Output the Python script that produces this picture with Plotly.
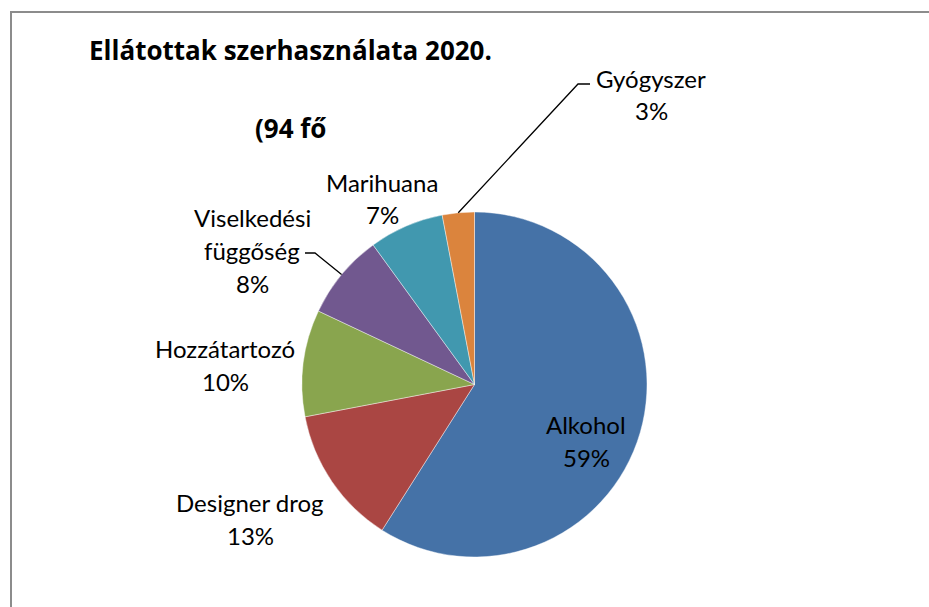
import math
import plotly.graph_objects as go

# ---- data ----
labels = ["Alkohol", "Designer drog", "Hozzátartozó", "Viselkedési függőség", "Marihuana", "Gyógyszer"]
values = [59, 13, 10, 8, 7, 3]
colors = ["#4572A7", "#AA4643", "#89A54E", "#71588F", "#4198AF", "#DB843D"]
label_lines = [["Alkohol"], ["Designer drog"], ["Hozzátartozó"], ["Viselkedési", "függőség"], ["Marihuana"], ["Gyógyszer"]]
title_text = "Ellátottak szerhasználata 2020."
subtitle_text = "(94 fő"

# ---- layout geometry (pixels) ----
W, H = 929, 607
cx, cy, R = 474.5, 384.5, 172.5
FONT = "Lato, 'Open Sans', sans-serif"
TITLE_FONT = "'Open Sans', Lato, sans-serif"
LBL_SIZE = 24
TITLE_SIZE = 26
LINE_GAP = 33
# centre of first text line of each label
label_pos = [(586, 424), (250, 502), (225, 348), (252, 217), (382, 182), (651, 78)]
# leader lines: label index -> list of elbow/end points (pixels)
leaders = {5: [(578, 84), (590, 84)], 3: [(315, 253), (305, 253)]}


def px(x):
    return x / W


def py(y):
    return 1 - y / H


fig = go.Figure(go.Pie(
    labels=labels, values=values, sort=False, direction="clockwise", rotation=0,
    marker=dict(colors=colors, line=dict(color="rgba(255,255,255,0.6)", width=0.7)),
    textinfo="none", hoverinfo="label+percent", showlegend=False,
    domain=dict(x=[px(cx - R), px(cx + R)], y=[py(cy + R), py(cy - R)]),
))

annotations = []
total = sum(values)
for i, (lines, v) in enumerate(zip(label_lines, values)):
    pct = f"{round(v / total * 100)}%"
    x0, y0 = label_pos[i]
    for k, t in enumerate(lines + [pct]):
        annotations.append(dict(
            x=px(x0), y=py(y0 + k * LINE_GAP), xref="paper", yref="paper",
            text=t, showarrow=False, xanchor="center", yanchor="middle",
            font=dict(family=FONT, size=LBL_SIZE, color="#000000"),
        ))

annotations.append(dict(x=px(87), y=py(50), xref="paper", yref="paper", text=f"<b>{title_text}</b>",
                        showarrow=False, xanchor="left", yanchor="middle",
                        font=dict(family=TITLE_FONT, size=TITLE_SIZE, color="#000000")))
annotations.append(dict(x=px(253), y=py(128), xref="paper", yref="paper", text=f"<b>{subtitle_text}</b>",
                        showarrow=False, xanchor="left", yanchor="middle",
                        font=dict(family=TITLE_FONT, size=TITLE_SIZE, color="#000000")))

shapes = []
# outer chart frame (extends past the right/bottom of the window)
shapes.append(dict(type="rect", xref="paper", yref="paper", x0=px(11), x1=px(W + 20), y0=py(H + 20), y1=py(12),
                   line=dict(color="#8C8C8C", width=2), fillcolor="rgba(0,0,0,0)", layer="above"))

# leader lines start at slice edge at mid-angle
cum = 0
mids = []
for v in values:
    mids.append((cum + v / 2) / total * 2 * math.pi)
    cum += v
for i, pts in leaders.items():
    a = mids[i]
    ex, ey = cx + R * math.sin(a), cy - R * math.cos(a)
    path = f"M {px(ex)},{py(ey)} " + " ".join(f"L {px(x)},{py(y)}" for x, y in pts)
    shapes.append(dict(type="path", xref="paper", yref="paper", path=path,
                       line=dict(color="#000000", width=1.3)))

fig.update_layout(
    width=W, height=H, margin=dict(l=0, r=0, t=0, b=0),
    paper_bgcolor="#FFFFFF", plot_bgcolor="#FFFFFF",
    annotations=annotations, shapes=shapes,
)

fig.write_html("out.html", config={"displayModeBar": False},
               post_script="document.body.style.margin='0';document.body.style.overflow='hidden';")
